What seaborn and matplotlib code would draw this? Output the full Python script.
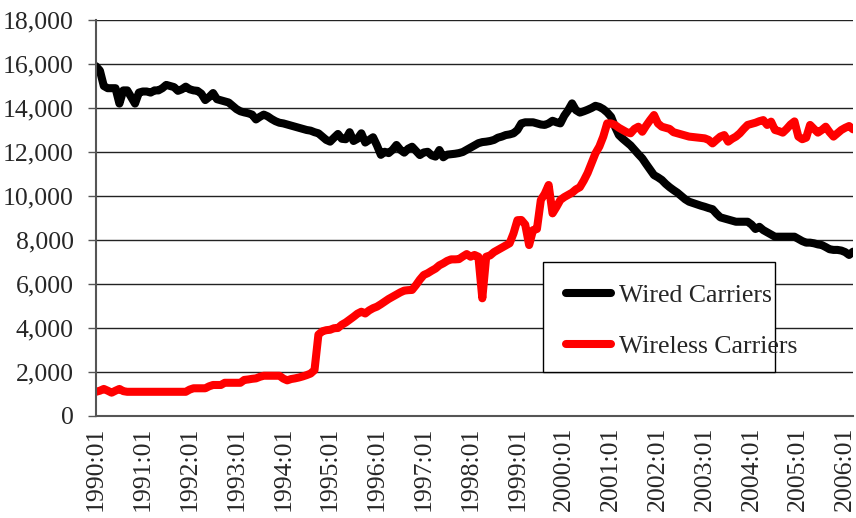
import matplotlib
matplotlib.use("Agg")
import matplotlib.pyplot as plt
import matplotlib.patches as mpatches
import seaborn as sns
import pandas as pd
import numpy as np

# ---- data (monthly, 1990:01 .. 2006:03) ----
wired = [
    15900, 15700, 15000, 14900, 14900, 14900, 14200, 14800, 14800, 14500, 14200, 14700,  # 1990
    14750, 14750, 14700, 14800, 14800, 14900, 15050, 15000, 14950, 14780, 14850, 14970,  # 1991
    14850, 14800, 14780, 14650, 14360, 14500, 14680, 14400, 14350, 14300, 14250, 14100,  # 1992
    13950, 13850, 13800, 13760, 13700, 13480, 13600, 13700, 13620, 13500, 13400, 13330,  # 1993
    13300, 13250, 13200, 13150, 13100, 13050, 13000, 12970, 12900, 12850, 12700, 12550,  # 1994
    12470, 12650, 12820, 12600, 12580, 12900, 12500, 12600, 12850, 12430, 12550, 12670,  # 1995
    12300, 11870, 12010, 11950, 12100, 12320, 12100, 11970, 12150, 12240, 12050, 11860,  # 1996
    11980, 12010, 11850, 11790, 12090, 11760, 11880, 11900, 11920, 11950, 12000, 12100,  # 1997
    12200, 12300, 12400, 12450, 12470, 12500, 12550, 12650, 12700, 12770, 12800, 12850,  # 1998
    13000, 13300, 13350, 13350, 13350, 13300, 13250, 13230, 13300, 13420, 13350, 13300,  # 1999
    13650, 13900, 14210, 13900, 13790, 13850, 13920, 14000, 14100, 14050, 13950, 13800,  # 2000
    13600, 13150, 12770, 12600, 12450, 12300, 12100, 11900, 11710, 11450, 11200, 10950,  # 2001
    10850, 10730, 10550, 10400, 10270, 10150, 10000, 9850, 9740, 9680, 9620, 9560,       # 2002
    9510, 9450, 9400, 9200, 9030, 8980, 8930, 8880, 8830, 8830, 8830, 8830,              # 2003
    8700, 8500, 8600, 8450, 8350, 8250, 8150, 8150, 8150, 8150, 8150, 8150,              # 2004
    8050, 7950, 7880, 7880, 7850, 7800, 7770, 7680, 7580, 7550, 7550, 7520,              # 2005
    7450, 7320, 7470,                                                                    # 2006
]
wireless = [
    1100, 1150, 1230, 1150, 1060, 1150, 1230, 1130, 1100, 1100, 1100, 1100,              # 1990
    1100, 1100, 1100, 1100, 1100, 1100, 1100, 1100, 1100, 1100, 1100, 1100,              # 1991
    1200, 1260, 1260, 1260, 1260, 1350, 1410, 1410, 1410, 1510, 1510, 1510,              # 1992
    1510, 1510, 1640, 1660, 1690, 1710, 1780, 1830, 1830, 1830, 1830, 1830,              # 1993
    1700, 1620, 1680, 1710, 1750, 1800, 1860, 1930, 2090, 3700, 3850, 3900,              # 1994
    3920, 3990, 4000, 4150, 4250, 4380, 4510, 4650, 4740, 4660, 4800, 4900,              # 1995
    4970, 5080, 5200, 5320, 5420, 5520, 5620, 5700, 5720, 5730, 5950, 6200,              # 1996
    6410, 6490, 6600, 6700, 6850, 6940, 7050, 7120, 7120, 7130, 7250, 7360,              # 1997
    7240, 7320, 7240, 5350, 7240, 7300, 7450, 7550, 7650, 7750, 7850, 8300,              # 1998
    8900, 8910, 8700, 7770, 8450, 8500, 9820, 10100, 10500, 9210, 9500, 9820,            # 1999
    9950, 10050, 10150, 10300, 10400, 10700, 11050, 11500, 11940, 12250, 12700, 13300,   # 2000
    13300, 13230, 13100, 13000, 12900, 12850, 13050, 13150, 12920, 13200, 13450, 13680,  # 2001
    13300, 13150, 13100, 13050, 12900, 12850, 12800, 12750, 12700, 12680, 12660, 12640,  # 2002
    12620, 12550, 12390, 12550, 12700, 12770, 12470, 12600, 12700, 12850, 13050, 13230,  # 2003
    13280, 13330, 13400, 13450, 13230, 13380, 13000, 12950, 12880, 13050, 13250, 13390,  # 2004
    12700, 12580, 12650, 13230, 13050, 12880, 13000, 13150, 12900, 12700, 12850, 13000,  # 2005
    13100, 13180, 13030,                                                                 # 2006
]
start_year = 1990
tick_years = list(range(1990, 2007))
tick_labels = [f"{y}:01" for y in tick_years]
y_ticks = list(range(0, 18001, 2000))

n = len(wired)
months = list(range(n))
df = pd.DataFrame({
    "month": months * 2,
    "value": wired + wireless,
    "series": ["Wired Carriers"] * n + ["Wireless Carriers"] * len(wireless),
})

sns.set_style("white")
plt.rcParams["font.family"] = ["Liberation Serif", "DejaVu Serif"]

fig = plt.figure(figsize=(8.56, 5.18), dpi=100)
ax = fig.add_axes([96 / 856, 1 - 416 / 518, (853 - 96) / 856, (416 - 20) / 518])

palette = {"Wired Carriers": "black", "Wireless Carriers": "#ff0000"}
sns.lineplot(data=df, x="month", y="value", hue="series", palette=palette,
             linewidth=5.8, ax=ax, legend=False, solid_joinstyle="round",
             solid_capstyle="round")

ax.set_xlim(0, n - 1)
ax.set_ylim(0, 18000)
ax.set_yticks(y_ticks)
ax.set_yticklabels([f"{v:,}" for v in y_ticks], fontsize=18.5)
ax.set_xticks([(y - start_year) * 12 for y in tick_years])
ax.set_xticklabels(tick_labels, rotation=90, fontsize=18.5)
ax.set_xlabel("")
ax.set_ylabel("")

ax.yaxis.grid(True, color="#222222", linewidth=1.0)
ax.set_axisbelow(True)
for s in ["top", "right"]:
    ax.spines[s].set_visible(False)
for s in ["left", "bottom"]:
    ax.spines[s].set_color("#555555")
    ax.spines[s].set_linewidth(1.5)
ax.tick_params(axis="y", length=6, width=1, color="#555555", pad=10, left=True)
ax.tick_params(axis="x", length=0, pad=8)

# legend
h1 = plt.Line2D([], [], color="black", linewidth=5.8, solid_capstyle="round")
h2 = plt.Line2D([], [], color="#ff0000", linewidth=5.8, solid_capstyle="round")
fig.legend([h1, h2], ["Wired Carriers", "Wireless Carriers"],
           loc="upper left", bbox_to_anchor=(548 / 856, 1 - 266 / 518),
           frameon=False, fontsize=18.5, handlelength=1.75, handletextpad=0.3,
           labelspacing=1.1, borderpad=0.2)
rect = mpatches.Rectangle((543 / 856, 1 - 372 / 518), (775 - 543) / 856, (372 - 262) / 518,
                          transform=fig.transFigure, facecolor="white",
                          edgecolor="black", linewidth=1.0, zorder=0)
fig.patches.append(rect)

fig.savefig("out.png", dpi=100)
